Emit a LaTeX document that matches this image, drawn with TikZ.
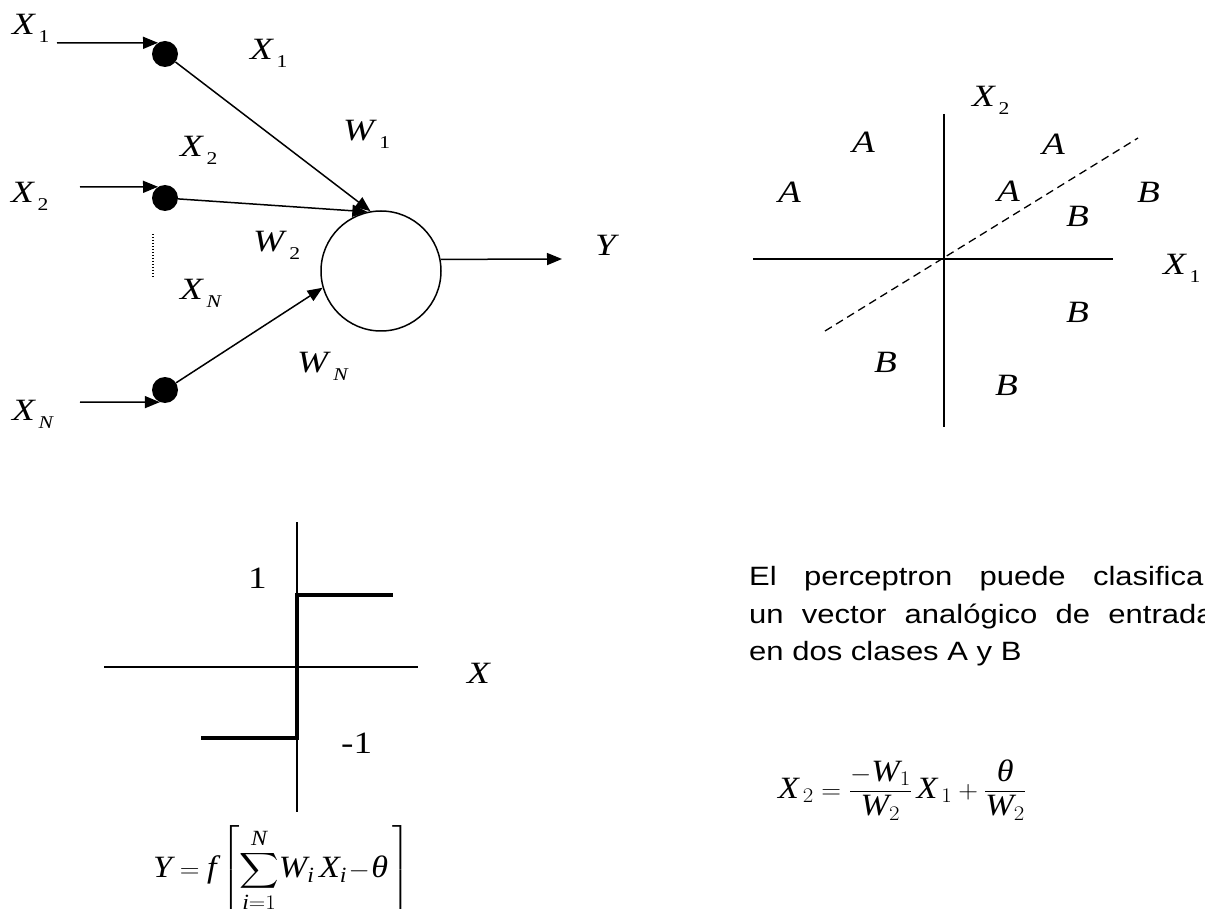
\documentclass[tikz,border=0pt]{standalone}
\usepackage{amsmath}
\usepackage{fontspec}
\setmainfont{Liberation Serif}
\newfontfamily\arialfont{Liberation Sans}
\usetikzlibrary{arrows.meta}
\newcommand\hs[1]{\scalebox{1.2}[1]{#1}}
\newcommand\fs[1]{\scalebox{1.1}[1]{#1}}
\newcommand\ps[1]{\scalebox{1.17}[1]{#1}}
\newcommand\vlab[2]{\hs{\textit{#1}\kern2pt\raisebox{-8pt}{\fontsize{18}{18}\selectfont #2}}}
\tikzset{
  lab/.style={inner sep=0pt, anchor=base west, font=\fontsize{31}{36}\selectfont},
  para/.style={inner sep=0pt, anchor=base west, font=\arialfont\fontsize{26.5}{30}\selectfont},
  arr/.style={-{Triangle[length=15pt,width=12pt]}, line width=1.5pt},
  axis/.style={line width=1.8pt},
  dotn/.style={circle, fill=black, minimum size=26pt, inner sep=0pt},
  neuron/.style={circle, draw, line width=1.5pt, minimum size=120pt, inner sep=0pt},
}
\begin{document}
\begin{tikzpicture}[x=1pt, y=-1pt]
\useasboundingbox (0,0) rectangle (1205,909);
% ---------- perceptron ----------
\node[dotn] (d1) at (165,54) {};
\node[dotn] (d2) at (165,198) {};
\node[dotn] (dN) at (165,390) {};
\node[neuron] (n) at (381,271) {};
\coordinate (i1) at (57,43);
\coordinate (i2) at (80,187);
\coordinate (iN) at (80,402);
\coordinate (yout) at (562,259);
\draw[arr] (i1) -- (d1.122);
\draw[arr] (i2) -- (d2.122);
\draw[arr] (iN) -- (dN.247);
\draw[arr] (d1) -- (n.100);
\draw[arr] (d2) -- (n.103);
\draw[arr] (dN) -- (n.196);
\draw[arr] (n.11.5) -- (yout);
\coordinate (dt1) at (153,234);
\coordinate (dt2) at (153,279);
\draw[line width=1.2pt, dash pattern=on 1.5pt off 1.5pt] (dt1) -- (dt2);
\node[lab] (lx1) at (12,35) {\vlab{X}{1}};
\node[lab] (lx2) at (11,203) {\vlab{X}{2}};
\node[lab] (lxn) at (12,420) {\vlab{X}{\textit{N}}};
\node[lab] (mx1) at (250,60) {\vlab{X}{1}};
\node[lab] (mw1) at (343,141) {\vlab{W}{1}};
\node[lab] (mx2) at (180,157) {\vlab{X}{2}};
\node[lab] (mw2) at (253,252) {\vlab{W}{2}};
\node[lab] (mxn) at (180,300) {\vlab{X}{\textit{N}}};
\node[lab] (mwn) at (297,373) {\vlab{W}{\textit{N}}};
\node[lab] (ly) at (595,256) {\hs{\textit{Y}}};
% ---------- quadrant ----------
\coordinate (qL) at (753,259);
\coordinate (qR) at (1113,259);
\coordinate (qT) at (944,114);
\coordinate (qB) at (944,427);
\coordinate (dA) at (825,331);
\coordinate (dB) at (1138,138);
\draw[axis] (qL) -- (qR);
\draw[axis] (qT) -- (qB);
\draw[line width=1.3pt, dash pattern=on 8pt off 5pt] (dA) -- (dB);
\node[lab] (qx2) at (972,107) {\vlab{X}{2}};
\node[lab] (qx1) at (1163,275) {\vlab{X}{1}};
\node[lab] (a1) at (852,153) {\hs{\textit{A}}};
\node[lab] (a2) at (1042,155) {\hs{\textit{A}}};
\node[lab] (a3) at (778,203) {\hs{\textit{A}}};
\node[lab] (a4) at (997,202) {\hs{\textit{A}}};
\node[lab] (b1) at (1137,203) {\hs{\textit{B}}};
\node[lab] (b2) at (1066,227) {\hs{\textit{B}}};
\node[lab] (b3) at (1066,323) {\hs{\textit{B}}};
\node[lab] (b4) at (874,372) {\hs{\textit{B}}};
\node[lab] (b5) at (995,395) {\hs{\textit{B}}};
% ---------- step function ----------
\coordinate (sT) at (297,522);
\coordinate (sB) at (297,812);
\coordinate (sL) at (104,667);
\coordinate (sR) at (418,667);
\draw[axis] (sT) -- (sB);
\draw[axis] (sL) -- (sR);
\coordinate (s1) at (201,738);
\coordinate (s2) at (297,738);
\coordinate (s3) at (297,595);
\coordinate (s4) at (393,595);
\draw[line width=4pt] (s1) -- (s2) -- (s3) -- (s4);
\node[lab] (one) at (248,588) {\hs{1}};
\node[lab] (mone) at (341,753) {\hs{-1}};
\node[lab] (sx) at (467,683) {\hs{\textit{X}}};
\node[lab] (f1) at (153,877) {\fs{$\displaystyle \textit{Y} = \textit{f}\left[\sum_{\textit{i}=1}^{\textit{N}}\!\textit{W}_{\textit{i}}\,\textit{X}_{\textit{i}}\!-\!\textit{θ}\,\right]$}};
% ---------- text ----------
\node[para] (p1) at (749,585) {\ps{\makebox[397pt][s]{El perceptron puede clasificar}}};
\node[para] (p2) at (749,623) {\ps{\makebox[397pt][s]{un vector analógico de entrada}}};
\node[para] (p3) at (749,660) {\ps{en dos clases A y B}};
\node[lab] (f2) at (778,798) {\fs{$\displaystyle \textit{X}_{\,2} = \frac{-\textit{W}_{1}}{\textit{W}_{2}}\,\textit{X}_{\,1} + \frac{\textit{θ}}{\textit{W}_{2}}$}};
\end{tikzpicture}
\end{document}
